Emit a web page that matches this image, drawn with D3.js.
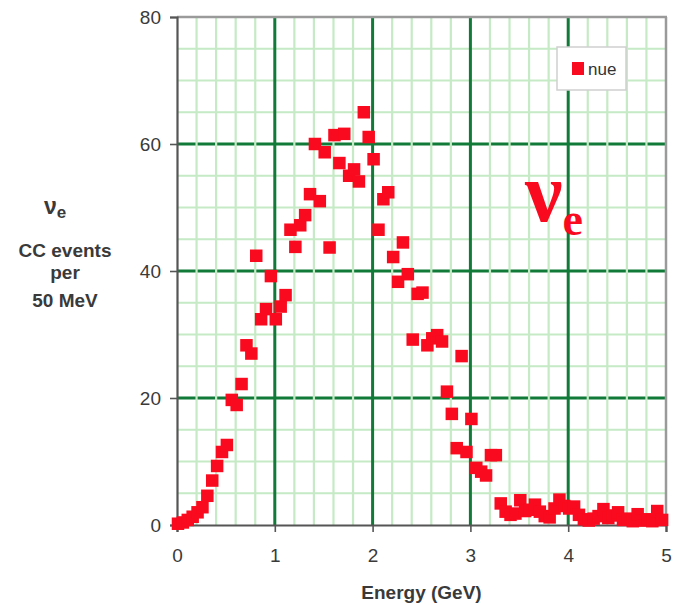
<!DOCTYPE html>
<html>
<head>
<meta charset="utf-8">
<script src="https://cdn.jsdelivr.net/npm/d3@7/dist/d3.min.js"></script>
<style>
  html, body { margin: 0; padding: 0; background: #ffffff; }
  svg { display: block; }
</style>
</head>
<body>
<svg id="chart" width="677" height="605"></svg>
<script>
// Electron-neutrino charged-current spectrum, 50 MeV bins
const energyGeV = [
  0.00, 0.05, 0.10, 0.15, 0.20, 0.25, 0.30, 0.35, 0.40, 0.45,
  0.50, 0.55, 0.60, 0.65, 0.70, 0.75, 0.80, 0.85, 0.90, 0.95,
  1.00, 1.05, 1.10, 1.15, 1.20, 1.25, 1.30, 1.35, 1.40, 1.45,
  1.50, 1.55, 1.60, 1.65, 1.70, 1.75, 1.80, 1.85, 1.90, 1.95,
  2.00, 2.05, 2.10, 2.15, 2.20, 2.25, 2.30, 2.35, 2.40, 2.45,
  2.50, 2.55, 2.60, 2.65, 2.70, 2.75, 2.80, 2.85, 2.90, 2.95,
  3.00, 3.05, 3.10, 3.15, 3.20, 3.25, 3.30, 3.35, 3.40, 3.45,
  3.50, 3.55, 3.60, 3.65, 3.70, 3.75, 3.80, 3.85, 3.90, 3.95,
  4.00, 4.05, 4.10, 4.15, 4.20, 4.25, 4.30, 4.35, 4.40, 4.45,
  4.50, 4.55, 4.60, 4.65, 4.70, 4.75, 4.80, 4.85, 4.90, 4.95
];
const nueEvents = [
  0.2, 0.4, 0.8, 1.3, 2.0, 2.8, 4.6, 7.0, 9.3, 11.5,
  12.6, 19.7, 18.9, 22.2, 28.3, 27.0, 42.4, 32.4, 34.0, 39.2,
  32.4, 34.4, 36.2, 46.5, 43.8, 47.2, 48.8, 52.1, 60.0, 51.0,
  58.7, 43.7, 61.4, 57.0, 61.6, 55.0, 56.0, 54.1, 65.0, 61.1,
  57.6, 46.5, 51.3, 52.4, 42.2, 38.3, 44.5, 39.5, 29.2, 36.4,
  36.6, 28.3, 29.4, 29.9, 28.9, 21.0, 17.5, 12.1, 26.6, 11.5,
  16.7, 9.0, 8.4, 7.8, 11.0, 11.0, 3.4, 2.1, 1.6, 1.8,
  3.9, 2.2, 2.4, 3.2, 2.1, 1.4, 1.2, 2.6, 4.0, 3.0,
  2.6, 2.9, 1.6, 0.9, 0.7, 1.0, 1.4, 2.5, 1.1, 1.5,
  2.0, 0.8, 1.0, 0.6, 1.7, 0.7, 0.9, 0.6, 2.2, 0.8
];
const xTicks = [0, 1, 2, 3, 4, 5];
const yTicks = [0, 20, 40, 60, 80];
const xMinorTicks = [0.2, 0.4, 0.6, 0.8, 1.2, 1.4, 1.6, 1.8, 2.2, 2.4, 2.6, 2.8,
                     3.2, 3.4, 3.6, 3.8, 4.2, 4.4, 4.6, 4.8];
const yMinorTicks = [5, 10, 15, 25, 30, 35, 45, 50, 55, 65, 70, 75];
const seriesName = "nue";

const svg = d3.select("#chart");
const plotL = 177, plotR = 666, plotT = 17, plotB = 525;

const x = d3.scaleLinear().domain([0, 5]).range([plotL, plotR]);
const y = d3.scaleLinear().domain([0, 80]).range([plotB, plotT]);

const minorColor = "#c5eac5";
const majorColor = "#117a38";
const red = "#fa0a1e";

const grid = svg.append("g");
// horizontal minor lines
grid.selectAll(".hminor").data(yMinorTicks).join("line")
  .attr("x1", plotL).attr("x2", plotR)
  .attr("y1", d => y(d)).attr("y2", d => y(d))
  .attr("stroke", minorColor).attr("stroke-width", 2.2);
// horizontal major lines
grid.selectAll(".hmajor").data(yTicks.slice(1, -1)).join("line")
  .attr("x1", plotL).attr("x2", plotR)
  .attr("y1", d => y(d)).attr("y2", d => y(d))
  .attr("stroke", majorColor).attr("stroke-width", 3);
// vertical minor lines, painted over the horizontal majors
grid.selectAll(".vminor").data(xMinorTicks).join("line")
  .attr("x1", d => x(d)).attr("x2", d => x(d))
  .attr("y1", plotT).attr("y2", plotB)
  .attr("stroke", minorColor).attr("stroke-width", 2.2);
// vertical major lines
grid.selectAll(".vmajor").data(xTicks.slice(1, -1)).join("line")
  .attr("x1", d => x(d)).attr("x2", d => x(d))
  .attr("y1", plotT).attr("y2", plotB)
  .attr("stroke", majorColor).attr("stroke-width", 3);

// frame: grey top/right, dark axes left/bottom
svg.append("line").attr("x1", plotL).attr("x2", plotR + 1).attr("y1", plotT).attr("y2", plotT)
  .attr("stroke", "#9a9a9a").attr("stroke-width", 2.5);
svg.append("line").attr("x1", plotR).attr("x2", plotR).attr("y1", plotT).attr("y2", plotB)
  .attr("stroke", "#9a9a9a").attr("stroke-width", 2.5);

const yAxis = d3.axisLeft(y).tickValues(yTicks).tickSize(7).tickPadding(9).tickFormat(d3.format("d"));
const xAxis = d3.axisBottom(x).tickValues(xTicks).tickSize(7).tickPadding(17).tickFormat(d3.format("d"));

const gy = svg.append("g").attr("transform", `translate(${plotL},0)`).call(yAxis);
const gx = svg.append("g").attr("transform", `translate(0,${plotB})`).call(xAxis);
[gx, gy].forEach(g => {
  g.select(".domain").attr("stroke", "#555").attr("stroke-width", 2.2);
  g.selectAll(".tick line").attr("stroke", "#555").attr("stroke-width", 1.6);
  g.selectAll(".tick text")
    .attr("fill", "#3a3a3a")
    .style("font-family", "Liberation Sans, Arial, sans-serif")
    .style("font-size", "19px");
});
gy.selectAll(".tick text").attr("dy", "0.35em");

// axis titles
svg.append("text")
  .attr("x", (plotL + plotR) / 2).attr("y", 599)
  .attr("text-anchor", "middle")
  .attr("fill", "#3a3a3a")
  .style("font-family", "Liberation Sans, Arial, sans-serif")
  .style("font-size", "19px").style("font-weight", "bold")
  .text("Energy (GeV)");

const yLab = svg.append("g")
  .attr("fill", "#3a3a3a")
  .style("font-family", "Liberation Sans, Arial, sans-serif")
  .style("font-weight", "bold");
const nuLab = yLab.append("text").attr("x", 44).attr("y", 214).style("font-size", "23px");
nuLab.append("tspan").text("ν");
nuLab.append("tspan").attr("dy", 4).style("font-size", "17px").text("e");
[["CC events", 257], ["per", 279], ["50 MeV", 307]].forEach(([t, yy]) => {
  yLab.append("text").attr("x", 65).attr("y", yy)
    .attr("text-anchor", "middle").style("font-size", "19px").text(t);
});

// large in-plot label
const big = svg.append("text")
  .attr("x", 525).attr("y", 221)
  .attr("fill", red)
  .style("font-family", "Liberation Serif, Times New Roman, serif")
  .style("font-weight", "bold");
big.append("tspan").style("font-size", "84px").text("ν");
big.append("tspan").attr("dy", 14).style("font-size", "46px").text("e");

// legend
const leg = svg.append("g");
leg.append("rect").attr("x", 557).attr("y", 47).attr("width", 69).attr("height", 43)
  .attr("fill", "#ffffff").attr("stroke", "#cfcfcf").attr("stroke-width", 1.5);
leg.append("rect").attr("x", 572).attr("y", 62).attr("width", 12).attr("height", 13).attr("fill", red);
leg.append("text").attr("x", 588).attr("y", 75)
  .attr("fill", "#333")
  .style("font-family", "Liberation Sans, Arial, sans-serif")
  .style("font-size", "17px")
  .text(seriesName);

// data markers
const sz = 12.5;
svg.append("g").selectAll("rect")
  .data(energyGeV.map((e, i) => [e, nueEvents[i]]))
  .join("rect")
  .attr("x", d => x(d[0]) - sz / 2 + 1)
  .attr("y", d => y(d[1]) - sz / 2)
  .attr("width", sz).attr("height", sz)
  .attr("fill", red);
</script>
</body>
</html>
